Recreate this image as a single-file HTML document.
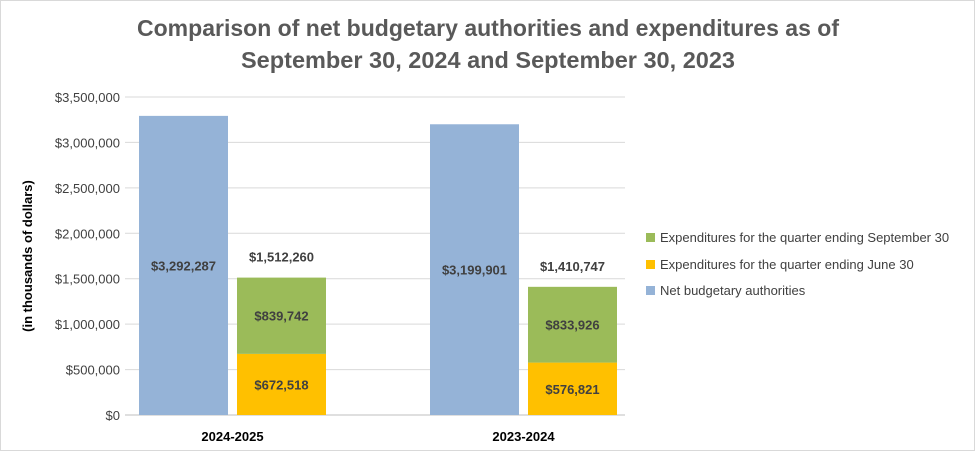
<!DOCTYPE html>
<html><head><meta charset="utf-8"><style>
body{margin:0;background:#fff;}
svg{display:block;font-family:"Liberation Sans",Calibri,sans-serif;}
</style></head><body>
<svg id="c" width="975" height="451" viewBox="0 0 975 451">
<rect x="0.5" y="0.5" width="974" height="450" fill="#fff" stroke="#d9d9d9"/>
<text x="488" y="36" text-anchor="middle" font-size="23" font-weight="bold" fill="#595959" textLength="702" lengthAdjust="spacingAndGlyphs">Comparison of net budgetary authorities and expenditures as of</text>
<text x="488" y="68" text-anchor="middle" font-size="23" font-weight="bold" fill="#595959" textLength="494" lengthAdjust="spacingAndGlyphs">September 30, 2024 and September 30, 2023</text>
<text transform="translate(32,256) rotate(-90)" text-anchor="middle" font-size="13" font-weight="bold" fill="#000">(in thousands of dollars)</text>
<g id="grid"></g><g id="bars"></g>
<g>
<rect x="646" y="233" width="9" height="9" fill="#9BBB59"/>
<text x="660" y="242" font-size="13" fill="#404040">Expenditures for the quarter ending September 30</text>
<rect x="646" y="260" width="9" height="9" fill="#FFC000"/>
<text x="660" y="269" font-size="13" fill="#404040">Expenditures for the quarter ending June 30</text>
<rect x="646" y="286" width="9" height="9" fill="#95B3D7"/>
<text x="660" y="295" font-size="13" fill="#404040">Net budgetary authorities</text>
</g>
</svg>
<script>
const categories=["2024-2025","2023-2024"];
const authorities=[3292287,3199901];
const juneExp=[672518,576821];
const sepExp=[839742,833926];
const ticks=[0,500000,1000000,1500000,2000000,2500000,3000000,3500000];
const NS="http://www.w3.org/2000/svg";
const y0=415,yTop=97,maxV=3500000;
const y=v=>y0-v/maxV*(y0-yTop);
const fmt=v=>"$"+v.toLocaleString("en-US");
const grid=document.getElementById("grid"),bars=document.getElementById("bars");
function mk(tag,attrs,parent,txt){const e=document.createElementNS(NS,tag);for(const k in attrs)e.setAttribute(k,attrs[k]);if(txt!==undefined)e.textContent=txt;parent.appendChild(e);return e;}
ticks.forEach((t,i)=>{
 const l=mk("line",{x1:125,x2:625,y1:y(t),y2:y(t),stroke:i===0?"#bfbfbf":"#d9d9d9","stroke-width":1},grid);
 
 
 const tx=mk("text",{x:120,y:y(t)+5,"text-anchor":"end","font-size":13,fill:"#404040"},grid,fmt(t));
 
 
});
const groupX=[139,430],bw=89,gap=98;
categories.forEach((c,i)=>{
 const gx=groupX[i];
 const a=mk("rect",{x:gx,y:y(authorities[i]),width:bw,height:y0-y(authorities[i]),fill:"#95B3D7"},bars);
 
 
 let t=mk("text",{x:gx+bw/2,y:(y(authorities[i])+y0)/2+5,"text-anchor":"middle","font-size":13,"font-weight":"bold",fill:"#404040"},bars,fmt(authorities[i]));
 
 
 const sx=gx+gap;
 const j=mk("rect",{x:sx,y:y(juneExp[i]),width:bw,height:y0-y(juneExp[i]),fill:"#FFC000"},bars);
 
 
 const top=juneExp[i]+sepExp[i];
 const s=mk("rect",{x:sx,y:y(top),width:bw,height:y(juneExp[i])-y(top),fill:"#9BBB59"},bars);
 
 
 t=mk("text",{x:sx+bw/2,y:(y(juneExp[i])+y0)/2+5,"text-anchor":"middle","font-size":13,"font-weight":"bold",fill:"#404040"},bars,fmt(juneExp[i]));
 
 
 t=mk("text",{x:sx+bw/2,y:(y(top)+y(juneExp[i]))/2+5,"text-anchor":"middle","font-size":13,"font-weight":"bold",fill:"#404040"},bars,fmt(sepExp[i]));
 
 
 t=mk("text",{x:sx+bw/2,y:y(top)-16,"text-anchor":"middle","font-size":13,"font-weight":"bold",fill:"#404040"},bars,fmt(top));
 
 
 t=mk("text",{x:gx+(gap+bw)/2,y:441,"text-anchor":"middle","font-size":13,"font-weight":"bold",fill:"#000"},bars,c);
 
 
});
</script>
</body></html>
